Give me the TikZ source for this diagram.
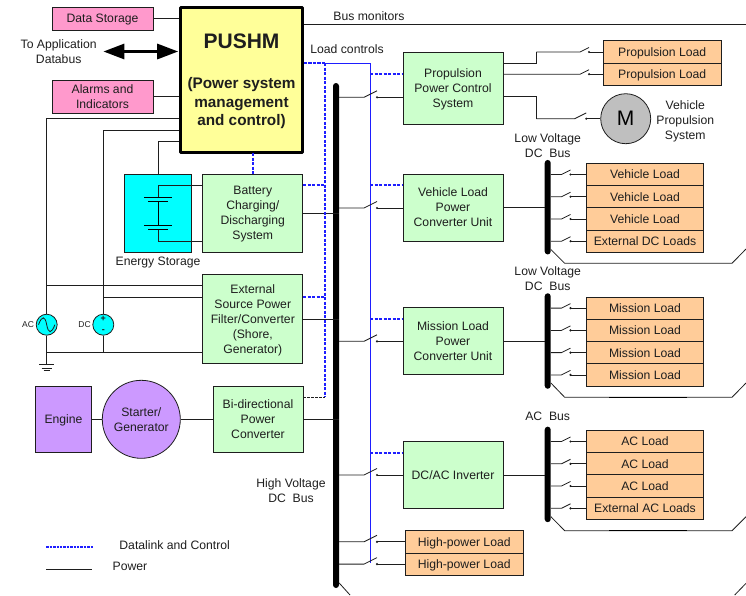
\documentclass[tikz,border=0pt]{standalone}
\usepackage{fontspec}
\setmainfont{Liberation Sans}
\usetikzlibrary{calc,arrows.meta}
\definecolor{boxgreen}{HTML}{CCFFCC}
\definecolor{boxorange}{HTML}{FFCC99}
\definecolor{boxpink}{HTML}{FF99CC}
\definecolor{boxpurple}{HTML}{CC99FF}
\definecolor{boxyellow}{HTML}{FFFF99}
\definecolor{boxcyan}{HTML}{00FFFF}
\definecolor{ctrlblue}{RGB}{30,30,255}
\definecolor{inkgray}{HTML}{1E1E1E}
\tikzset{
	lbl/.style={inner sep=0pt, align=center, text=inkgray, text depth=0pt, font=\fontsize{12.2}{15}\selectfont},
	box/.style={lbl, draw=inkgray, line width=0.8pt, minimum width=100pt},
	unitbox/.style={box, fill=boxgreen},
	loadbox/.style={box, fill=boxorange, minimum width=117.4pt, minimum height=22.3pt},
	sidebox/.style={box, fill=boxpink, minimum width=101pt},
	busbar/.style={fill=black, inner sep=0pt, minimum width=6pt, rounded corners=3pt},
	source/.style={circle, draw=inkgray, fill=boxcyan, line width=0.8pt, inner sep=0pt, minimum size=21pt},
	powerline/.style={draw=inkgray, line width=0.8pt},
	ctrlline/.style={draw=ctrlblue, line width=1.3pt, dash pattern=on 3.2pt off 1.3pt},
	smalltag/.style={lbl, font=\fontsize{8.5}{10}\selectfont}
}
\def\swlink[#1](#2)(#3)(#4){
	\draw[powerline] (#2 |- #3) -- ($(#3)+(-#1,0)$) -- ($(#3)+(0,-#1/2)$);
	\fill[inkgray] (#3) circle (1.2);
	\draw[powerline] (#3) -- (#3 -| #4.west);
}

\begin{document}
\begin{tikzpicture}[x=1pt, y=-1pt]
	\useasboundingbox (0,0) rectangle (746,595);

	%%%%% left side %%%%%
	\node[sidebox, minimum height=23pt] (store) at (102.5,18.5) {Data Storage};
	\node[sidebox, minimum height=33pt] (alarm) at (102.5,96.5) {Alarms and\\Indicators};
	\node[lbl] (app) at (58.7,51.5) {To Application\\Databus};
	\node[draw=black, fill=boxyellow, line width=2.6pt, inner sep=0pt, minimum width=122pt, minimum height=145pt, rounded corners=0.5pt] (pushm) at (241.5,80) {};
	\node[lbl, font=\fontsize{21}{24}\selectfont\bfseries] (pushmtitle) at (241.5,41.5) {PUSHM};
	\node[lbl, font=\fontsize{15.3}{18.3}\selectfont\bfseries] (pushmsub) at (241.5,101.5) {(Power system\\management\\and control)};

	\draw[powerline] (store.east) -- (store.east -| pushm.west);
	\draw[powerline] (alarm.east) -- (alarm.east -| pushm.west);
	\draw[black, line width=3pt, {Triangle[length=21pt,width=15pt]}-{Triangle[length=21pt,width=15pt]}] ($(app.east)+(6.5,0)$) -- ($(app.east -| pushm.west)+(-1,0)$);

	\node[draw=inkgray, fill=boxcyan, line width=0.8pt, inner sep=0pt, minimum width=67pt, minimum height=78pt] (esbox) at (158.2,213) {};
	\node[lbl] (eslabel) at (158,261) {Energy Storage};
	\node[unitbox, minimum height=78pt] (batt) at (252.8,213) {Battery\\Charging/\\Discharging\\System};
	\node[unitbox, minimum height=89pt] (extsrc) at (252.8,319.2) {External\\Source Power\\Filter/Converter\\(Shore,\\Generator)};
	\node[unitbox, minimum width=90pt, minimum height=66.7pt] (bidir) at (258,419.3) {Bi-directional\\Power\\Converter};
	\node[box, fill=boxpurple, minimum width=55.6pt, minimum height=66.7pt] (engine) at (63.5,419.3) {Engine};
	\node[box, circle, fill=boxpurple, minimum width=78pt] (starter) at (141.3,419.3) {Starter/\\Generator};

	\node[source] (acsrc) at (46.7,324.7) {};
	\node[source] (dcsrc) at (103.3,324.7) {};
	\node[smalltag] (aclabel) at (28,324.7) {AC};
	\node[smalltag] (dclabel) at (84.5,324.7) {DC};
	\node[smalltag, font=\fontsize{9}{9}\selectfont\bfseries] (dcplus) at (103.3,318.5) {+};
	\node[smalltag, font=\fontsize{9}{9}\selectfont\bfseries] (dcminus) at (103.3,331.5) {-};
	\draw[inkgray, line width=0.8pt] (38.5,324.7) .. controls (42,315.5) and (45,315.5) .. (46.7,324.7) .. controls (48.4,333.9) and (51.4,333.9) .. (54.9,324.7);

	\coordinate (gnd) at (46.7,364.7);
	\coordinate (acjoin) at (46.7,352.7);
	\draw[powerline] (pushm.west |- 0,118.7) -| (acsrc.north);
	\draw[powerline] (pushm.west |- 0,130) -| (dcsrc.north);
	\draw[powerline] (pushm.west |- 0,141) -| (esbox.north);
	\draw[powerline] (acsrc.south) -- (gnd);
	\draw[powerline] (acjoin) -- (acjoin -| extsrc.west);
	\draw[powerline] (dcsrc.south) -- (dcsrc.south |- acjoin);
	\draw[powerline] (acsrc |- 0,285.7) -- (extsrc.west |- 0,285.7);
	\draw[powerline] (dcsrc |- 0,297) -- (extsrc.west |- 0,297);
	\draw[powerline] ($(gnd)+(-7.4,0)$) -- ($(gnd)+(7.4,0)$);
	\draw[powerline] ($(gnd)+(-5.2,3.3)$) -- ($(gnd)+(5.2,3.3)$);
	\draw[powerline] ($(gnd)+(-3.2,6)$) -- ($(gnd)+(3.2,6)$);

	%% battery symbol
	\coordinate (cella) at (158,197);
	\coordinate (cellb) at (158,225);
	\draw[powerline] (batt.west |- 0,185.3) -- (158,185.3) -- (cella);
	\draw[black, line width=0.8pt] ($(cella)+(-14,0)$) -- ($(cella)+(14,0)$);
	\draw[black, line width=0.8pt] ($(cella)+(-9.7,4.7)$) -- ($(cella)+(9.7,4.7)$);
	\draw[black, line width=0.3pt] ($(cella)+(0,4.7)$) -- (cellb);
	\draw[black, line width=0.8pt] ($(cellb)+(-14,0)$) -- ($(cellb)+(14,0)$);
	\draw[black, line width=0.8pt] ($(cellb)+(-9.7,4.7)$) -- ($(cellb)+(9.7,4.7)$);
	\draw[powerline] ($(cellb)+(0,4.7)$) -- (158,241) -- (batt.west |- 0,241);

	%%%%% middle %%%%%
	\node[busbar, minimum height=505pt] (hvbus) at (336,335.5) {};
	\node[lbl] (hvlabel) at (291,491) {High Voltage\\DC~~Bus};
	\node[lbl] (monitors) at (369,16) {Bus monitors};
	\node[lbl] (controls) at (347,49) {Load controls};

	\node[unitbox, minimum height=72pt] (pcs) at (453,88) {Propulsion\\Power Control\\System};
	\node[unitbox, minimum height=67pt] (vlu) at (453,207.5) {Vehicle Load\\Power\\Converter Unit};
	\node[unitbox, minimum height=67pt] (mlu) at (453,341.2) {Mission Load\\Power\\Converter Unit};
	\node[unitbox, minimum height=66.6pt] (inv) at (453,475) {DC/AC Inverter};
	\node[loadbox] (hpa) at (464.2,541.8) {High-power Load};
	\node[loadbox] (hpb) at (464.2,564.1) {High-power Load};

	\draw[powerline] (pushm.east |- 0,24) -- (746,24);
	\draw[powerline] (batt.east |- 0,213.3) -- (hvbus.east |- 0,213.3);
	\draw[powerline] (extsrc.east) -- (hvbus.east |- extsrc.east);
	\draw[powerline] (bidir.east) -- (hvbus.east |- bidir.east);
	\draw[powerline] (engine) -- (starter);
	\draw[powerline] (starter) -- (bidir);

	%% control wiring
	\coordinate (ctla) at (325,63);
	\coordinate (ctlb) at (370,63);
	\draw[ctrlline] (pushm.east |- ctla) -- (ctla);
	\draw[ctrlline] (ctla) -- (325,397);
	\draw[draw=inkgray, line width=0.8pt, dash pattern=on 2.5pt off 1.5pt] (bidir.east |- 0,397) -- (325,397);
	\draw[ctrlblue, line width=1pt] (ctla) -- (ctlb) -- (370,563);
	\draw[ctrlline] (253,153) -- (253,174);
	\draw[ctrlline] (batt.east |- 0,185) -- (325,185);
	\draw[ctrlline] (extsrc.east |- 0,297) -- (325,297);
	\draw[ctrlline] (ctlb |- 0,74) -- (pcs.west |- 0,74);
	\draw[ctrlline] (ctlb |- 0,185) -- (vlu.west |- 0,185);
	\draw[ctrlline] (ctlb |- 0,319) -- (mlu.west |- 0,319);
	\draw[ctrlline] (ctlb |- 0,453) -- (inv.west |- 0,453);

	\swlink[13](hvbus.east)(377,97.3)(pcs)
	\swlink[13](hvbus.east)(377,208)(vlu)
	\swlink[13](hvbus.east)(377,341.3)(mlu)
	\swlink[13](hvbus.east)(377,475)(inv)
	\swlink[13](hvbus.east)(377,541.8)(hpa)
	\swlink[13](hvbus.east)(377,564.1)(hpb)

	%%%%% right side %%%%%
	\node[loadbox] (pla) at (662.2,52) {Propulsion Load};
	\node[loadbox] (plb) at (662.2,74.2) {Propulsion Load};
	\node[circle, draw=inkgray, fill=black!25, line width=0.8pt, inner sep=0pt, minimum size=50pt, font=\fontsize{21}{24}\selectfont] (motor) at (625.7,118.7) {M};
	\node[lbl] (motorlabel) at (685.3,119.7) {Vehicle\\Propulsion\\System};

	\coordinate (pwra) at (536.3,52);
	\coordinate (pwrb) at (536.3,118.7);
	\draw[powerline] (pcs.east |- 0,63) -- (pwra |- 0,63) -- (pwra);
	\draw[powerline] (pcs.east |- 0,96.7) -- (pwrb |- 0,96.7) -- (pwrb);
	\swlink[9](pwra)(589,52)(pla)
	\swlink[9](pcs.east)(589,74.2)(plb)
	\swlink[11.6](pwrb)(586.3,118.7)(motor)

	\node[busbar, minimum height=94.5pt] (lvbusa) at (547.7,207.2) {};
	\node[busbar, minimum height=95.5pt] (lvbusb) at (547.7,341) {};
	\node[busbar, minimum height=95.5pt] (acbus) at (547.7,474.4) {};
	\node[lbl] (lvlabela) at (547.7,145.7) {Low Voltage\\DC~~Bus};
	\node[lbl] (lvlabelb) at (547.7,279) {Low Voltage\\DC~~Bus};
	\node[lbl] (aclbl) at (547.7,416.7) {AC~~Bus};

	\draw[powerline] (vlu.east) -- (lvbusa.west |- vlu.east);
	\draw[powerline] (mlu.east) -- (lvbusb.west |- mlu.east);
	\draw[powerline] (inv.east) -- (acbus.west |- inv.east);

	\node[loadbox] (vla) at (645,174.5) {Vehicle Load};
	\node[loadbox] (vlb) at (645,196.7) {Vehicle Load};
	\node[loadbox] (vlc) at (645,219) {Vehicle Load};
	\node[loadbox] (vld) at (645,241.2) {External DC Loads};
	\swlink[9](lvbusa.east)(570.5,174.5)(vla)
	\swlink[9](lvbusa.east)(570.5,196.7)(vlb)
	\swlink[9](lvbusa.east)(570.5,219)(vlc)
	\swlink[9](lvbusa.east)(570.5,241.2)(vld)

	\node[loadbox] (mla) at (645,308.1) {Mission Load};
	\node[loadbox] (mlb) at (645,330.4) {Mission Load};
	\node[loadbox] (mlc) at (645,352.6) {Mission Load};
	\node[loadbox] (mld) at (645,374.9) {Mission Load};
	\swlink[9](lvbusb.east)(570.5,308.1)(mla)
	\swlink[9](lvbusb.east)(570.5,330.4)(mlb)
	\swlink[9](lvbusb.east)(570.5,352.6)(mlc)
	\swlink[9](lvbusb.east)(570.5,374.9)(mld)

	\node[loadbox] (aca) at (645,441.5) {AC Load};
	\node[loadbox] (acb) at (645,463.8) {AC Load};
	\node[loadbox] (acc) at (645,486) {AC Load};
	\node[loadbox] (acd) at (645,508.3) {External AC Loads};
	\swlink[9](acbus.east)(570.5,441.5)(aca)
	\swlink[9](acbus.east)(570.5,463.8)(acb)
	\swlink[9](acbus.east)(570.5,486)(acc)
	\swlink[9](acbus.east)(570.5,508.3)(acd)

	%% ties below the buses
	\draw[powerline] (lvbusa.east |- 0,249.5) -- (564.7,263.3) -- (732,263.3) -- (746,249);
	\draw[powerline] (lvbusb.east |- 0,383) -- (564.7,397.3) -- (732,397.3) -- (746,383);
	\draw[powerline] (acbus.east |- 0,516.7) -- (564.7,530.7) -- (732,530.7) -- (746,516.7);
	\draw[black, line width=1.5pt] (609,397.3) -- (687,397.3);
	\draw[black, line width=1.5pt] (609,530.7) -- (687,530.7);
	\draw[powerline] (hvbus.east |- 0,583) -- (350,595);
	\draw[powerline] (734.7,595) -- (746,583.3);

	%%%%% legend %%%%%
	\coordinate (keya) at (46.3,547);
	\coordinate (keyb) at (46.3,569.3);
	\draw[draw=ctrlblue, line width=1.1pt, dash pattern=on 2.4pt off 1pt] (keya) -- ++(46.4,0);
	\draw[powerline] (keyb) -- ++(45.4,0);
	\node[lbl] (keytexta) at (174.7,545) {Datalink and Control};
	\node[lbl] (keytextb) at (130,566.7) {Power};
\end{tikzpicture}
\end{document}
